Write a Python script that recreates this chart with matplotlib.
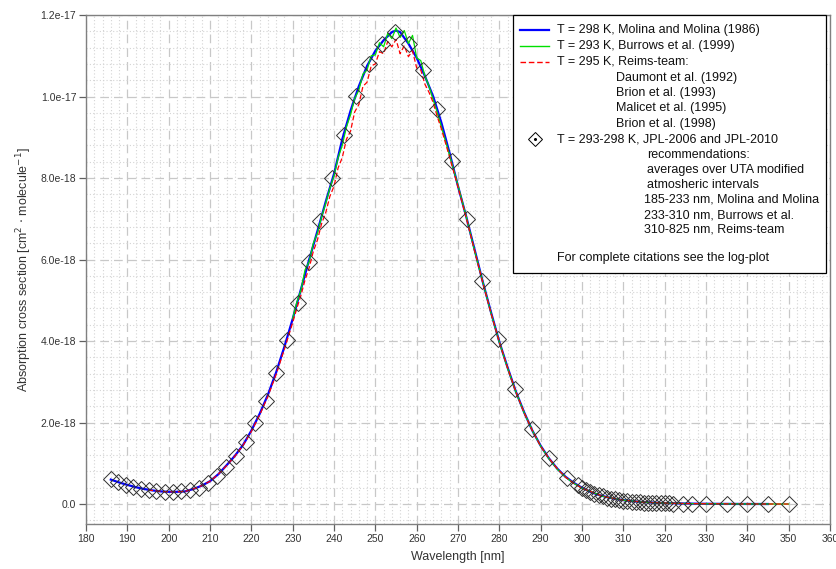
import numpy as np
import matplotlib.pyplot as plt
from matplotlib.lines import Line2D
from matplotlib.patches import Rectangle
from matplotlib.ticker import MultipleLocator, FuncFormatter

plt.rcParams['font.family'] = ['Liberation Sans', 'DejaVu Sans']

# O3 absorption cross sections, values in 1e-18 cm^2 molecule^-1

# Molina and Molina (1986), 298 K
wl_molina = [186, 188, 190, 192, 194, 196, 198, 200, 202, 204, 206, 208, 210, 212,
             214, 216, 218, 220, 222, 224, 226, 228, 230, 232, 234, 236, 238, 240,
             242, 244, 246, 248, 250, 252, 254, 255, 256, 258, 260, 262, 264, 266,
             268, 270, 272, 274, 276, 278, 280, 282, 284, 286, 288, 290, 292, 294,
             296, 298, 300, 302, 304, 306, 308, 310, 312, 314, 316, 318, 320, 325,
             330, 335, 340, 345]
xs_molina = [0.60, 0.53, 0.47, 0.415, 0.37, 0.335, 0.31, 0.30, 0.30, 0.31, 0.37, 0.45,
             0.56, 0.73, 0.95, 1.18, 1.45, 1.80, 2.21, 2.68, 3.23, 3.86, 4.54, 5.27,
             6.00, 6.70, 7.42, 8.10, 8.95, 9.65, 10.25, 10.75, 11.12, 11.38, 11.58,
             11.62, 11.58, 11.30, 10.95, 10.50, 10.00, 9.35, 8.60, 7.80, 7.05, 6.25,
             5.45, 4.70, 3.98, 3.35, 2.76, 2.25, 1.80, 1.43, 1.12, 0.87, 0.67, 0.52,
             0.40, 0.30, 0.225, 0.17, 0.128, 0.095, 0.072, 0.054, 0.041, 0.031, 0.024,
             0.012, 0.006, 0.003, 0.0015, 0.0008]

# Burrows et al. (1999), 293 K
wl_burrows = [230, 231, 232, 233, 234, 235, 236, 237, 238, 239, 240, 241, 242, 243,
              244, 245, 246, 247, 248, 249, 250, 251, 252, 253, 254, 255, 256, 257,
              258, 259, 260, 261, 262, 263, 264, 265, 266, 268, 270, 272, 274, 276,
              278, 280, 282, 284, 286, 288, 290, 292, 294, 296, 298, 300, 305, 310,
              315, 320, 325, 330, 340, 350]
xs_burrows = [4.55, 4.95, 5.25, 5.75, 5.95, 6.40, 6.65, 7.05, 7.38, 7.75, 8.05, 8.50,
              8.80, 9.25, 9.55, 9.95, 10.15, 10.55, 10.65, 11.00, 11.02, 11.32, 11.22,
              11.55, 11.42, 11.68, 11.45, 11.62, 11.30, 11.50, 10.95, 10.88, 10.50,
              10.25, 9.92, 9.60, 9.25, 8.55, 7.82, 7.05, 6.22, 5.45, 4.68, 3.97, 3.33,
              2.75, 2.24, 1.80, 1.42, 1.11, 0.86, 0.66, 0.51, 0.39, 0.19, 0.095, 0.045,
              0.024, 0.012, 0.006, 0.0015, 0.0004]

# Reims-team (Daumont, Brion, Malicet), 295 K
wl_reims = [195, 198, 200, 202, 204, 206, 208, 210, 212, 214, 216, 218, 220, 222, 224,
            226, 228, 230, 231, 232, 233, 234, 235, 236, 237, 238, 239, 240, 241, 242,
            243, 244, 245, 246, 247, 248, 249, 250, 251, 252, 253, 254, 255, 256, 257,
            258, 259, 260, 261, 262, 263, 264, 265, 266, 268, 270, 272, 274, 276, 278,
            280, 282, 284, 286, 288, 290, 292, 294, 296, 298, 300, 305, 310, 315, 320,
            325, 330, 340, 345, 350]
xs_reims = [0.345, 0.31, 0.30, 0.30, 0.31, 0.37, 0.45, 0.56, 0.73, 0.94, 1.17, 1.44,
            1.78, 2.18, 2.64, 3.18, 3.80, 4.45, 4.80, 5.12, 5.50, 5.80, 6.20, 6.48,
            6.88, 7.15, 7.55, 7.80, 8.25, 8.50, 8.95, 9.15, 9.62, 9.80, 10.25, 10.35,
            10.75, 10.80, 11.10, 11.05, 11.35, 11.22, 11.40, 11.05, 11.25, 10.98,
            11.12, 10.70, 10.65, 10.30, 10.10, 9.85, 9.50, 9.20, 8.50, 7.78, 7.02,
            6.22, 5.43, 4.68, 3.97, 3.34, 2.75, 2.24, 1.80, 1.42, 1.12, 0.87, 0.66,
            0.51, 0.39, 0.19, 0.095, 0.045, 0.024, 0.012, 0.006, 0.0015, 0.0008, 0.0004]

# JPL-2006 / JPL-2010 recommendations, interval averages
wl_jpl = [186.05, 187.8, 189.6, 191.4, 193.25, 195.15, 197.05, 199.0, 201.0, 203.05,
          205.15, 207.25, 209.4, 211.65, 213.9, 216.2, 218.6, 221.0, 223.45, 226.0,
          228.6, 231.25, 233.95, 236.7, 239.55, 242.45, 245.4, 248.45, 251.6, 254.8,
          258.05, 261.45, 264.95, 268.5, 272.15, 275.9, 279.75, 283.7, 287.8, 292.0,
          296.3, 299, 300, 301, 302, 303, 304, 305, 306, 307, 308, 309, 310, 311, 312,
          313, 314, 315, 316, 317, 318, 319, 320, 321, 322, 324.5, 326.5, 330, 335,
          340, 345, 350]
xs_jpl = [0.61, 0.54, 0.475, 0.425, 0.38, 0.345, 0.32, 0.305, 0.30, 0.31, 0.34, 0.40,
          0.51, 0.70, 0.92, 1.19, 1.53, 1.98, 2.53, 3.22, 4.02, 4.93, 5.93, 6.95, 8.00,
          9.05, 10.02, 10.80, 11.30, 11.58, 11.28, 10.65, 9.70, 8.42, 7.00, 5.48, 4.05,
          2.83, 1.83, 1.13, 0.64, 0.47, 0.40, 0.34, 0.29, 0.25, 0.215, 0.185, 0.16,
          0.135, 0.115, 0.10, 0.085, 0.072, 0.061, 0.052, 0.044, 0.037, 0.032, 0.027,
          0.023, 0.020, 0.017, 0.014, 0.012, 0.009, 0.007, 0.004, 0.002, 0.001,
          0.0006, 0.0004]

scale = 1e-18

fig = plt.figure(figsize=(8.36, 5.69), dpi=100)
ax = fig.add_axes([86 / 836, 45 / 569, 744 / 836, 509 / 569])

ax.plot(wl_molina, np.array(xs_molina) * scale, color='#0000ff', lw=1.6, zorder=3)
ax.plot(wl_burrows, np.array(xs_burrows) * scale, color='#00e000', lw=0.9, zorder=4)
ax.plot(wl_reims, np.array(xs_reims) * scale, color='#ff0000', lw=0.9,
        dashes=(4, 2), zorder=5)
ax.plot(wl_jpl, np.array(xs_jpl) * scale, ls='none', marker='D', ms=8.5,
        mfc='none', mec='#303030', mew=0.7, zorder=6)

ax.set_xlim(180, 360)
ax.set_ylim(-0.49e-18, 1.2e-17)
ax.xaxis.set_major_locator(MultipleLocator(10))
ax.xaxis.set_minor_locator(MultipleLocator(2))
ax.yaxis.set_major_locator(MultipleLocator(2e-18))
ax.yaxis.set_minor_locator(MultipleLocator(0.4e-18))
ax.yaxis.set_major_formatter(FuncFormatter(lambda v, p: '0.0' if abs(v) < 1e-25 else f'{v:.1e}'))
ax.yaxis.get_offset_text().set_visible(False)

ax.grid(which='major', color='#c8c8c8', lw=0.9, dashes=(7, 4))
ax.grid(which='minor', color='#d4d4d4', lw=0.8, ls=(0, (1, 2)))
ax.set_axisbelow(True)
ax.tick_params(which='major', length=5, width=0.9, color='#606060',
               labelsize=7.5, labelcolor='#333333', pad=2)
ax.tick_params(which='minor', length=0)
for s in ax.spines.values():
    s.set_color('#808080')
    s.set_linewidth(1.0)

ax.set_xlabel('Wavelength [nm]', fontsize=9, color='#333333', labelpad=5)
ax.set_ylabel(r'Absorption cross section [cm$^{2}$ $\cdot$ molecule$^{-1}$]',
              fontsize=9, color='#333333', labelpad=5)

# legend box drawn in figure pixels
W, H = 836, 569


def fx(x):
    return x / W


def fy(y):
    return 1 - y / H


box = Rectangle((fx(513), fy(273)), fx(826) - fx(513), fy(15) - fy(273),
                transform=fig.transFigure, facecolor='white', edgecolor='black',
                lw=0.9, zorder=10, clip_on=False)
ax.add_patch(box)

handles = [
    dict(color='#0000ff', lw=1.6, y=30),
    dict(color='#00e000', lw=1.0, y=46),
    dict(color='#ff0000', lw=1.0, y=62, dashes=(4, 2)),
]
for h in handles:
    y = h.pop('y')
    ln = Line2D([fx(520), fx(549)], [fy(y), fy(y)], transform=fig.transFigure,
                zorder=11, **h)
    fig.add_artist(ln)
fig.add_artist(Line2D([fx(535)], [fy(139)], transform=fig.transFigure, ls='none',
                      marker='D', ms=7, mfc='none', mec='black', mew=0.7, zorder=11))
fig.add_artist(Line2D([fx(535)], [fy(139)], transform=fig.transFigure, ls='none',
                      marker='o', ms=1.2, mfc='black', mec='black', zorder=11))

legend_lines = [
    (557, 30, 'T = 298 K, Molina and Molina (1986)'),
    (557, 46, 'T = 293 K, Burrows et al. (1999)'),
    (557, 62, 'T = 295 K, Reims-team:'),
    (616, 78, 'Daumont et al. (1992)'),
    (616, 93, 'Brion et al. (1993)'),
    (616, 108, 'Malicet et al. (1995)'),
    (616, 124, 'Brion et al. (1998)'),
    (557, 139, 'T = 293-298 K, JPL-2006 and JPL-2010'),
    (647, 155, 'recommendations:'),
    (647, 170, 'averages over UTA modified'),
    (647, 185, 'atmosheric intervals'),
    (644, 200, '185-233 nm, Molina and Molina'),
    (644, 215, '233-310 nm, Burrows et al.'),
    (644, 230, '310-825 nm, Reims-team'),
    (557, 258, 'For complete citations see the log-plot'),
]
for x, y, s in legend_lines:
    fig.text(fx(x), fy(y), s, fontsize=9, color='#111111', ha='left', va='center',
             zorder=12)

fig.savefig('out.png', dpi=100)
